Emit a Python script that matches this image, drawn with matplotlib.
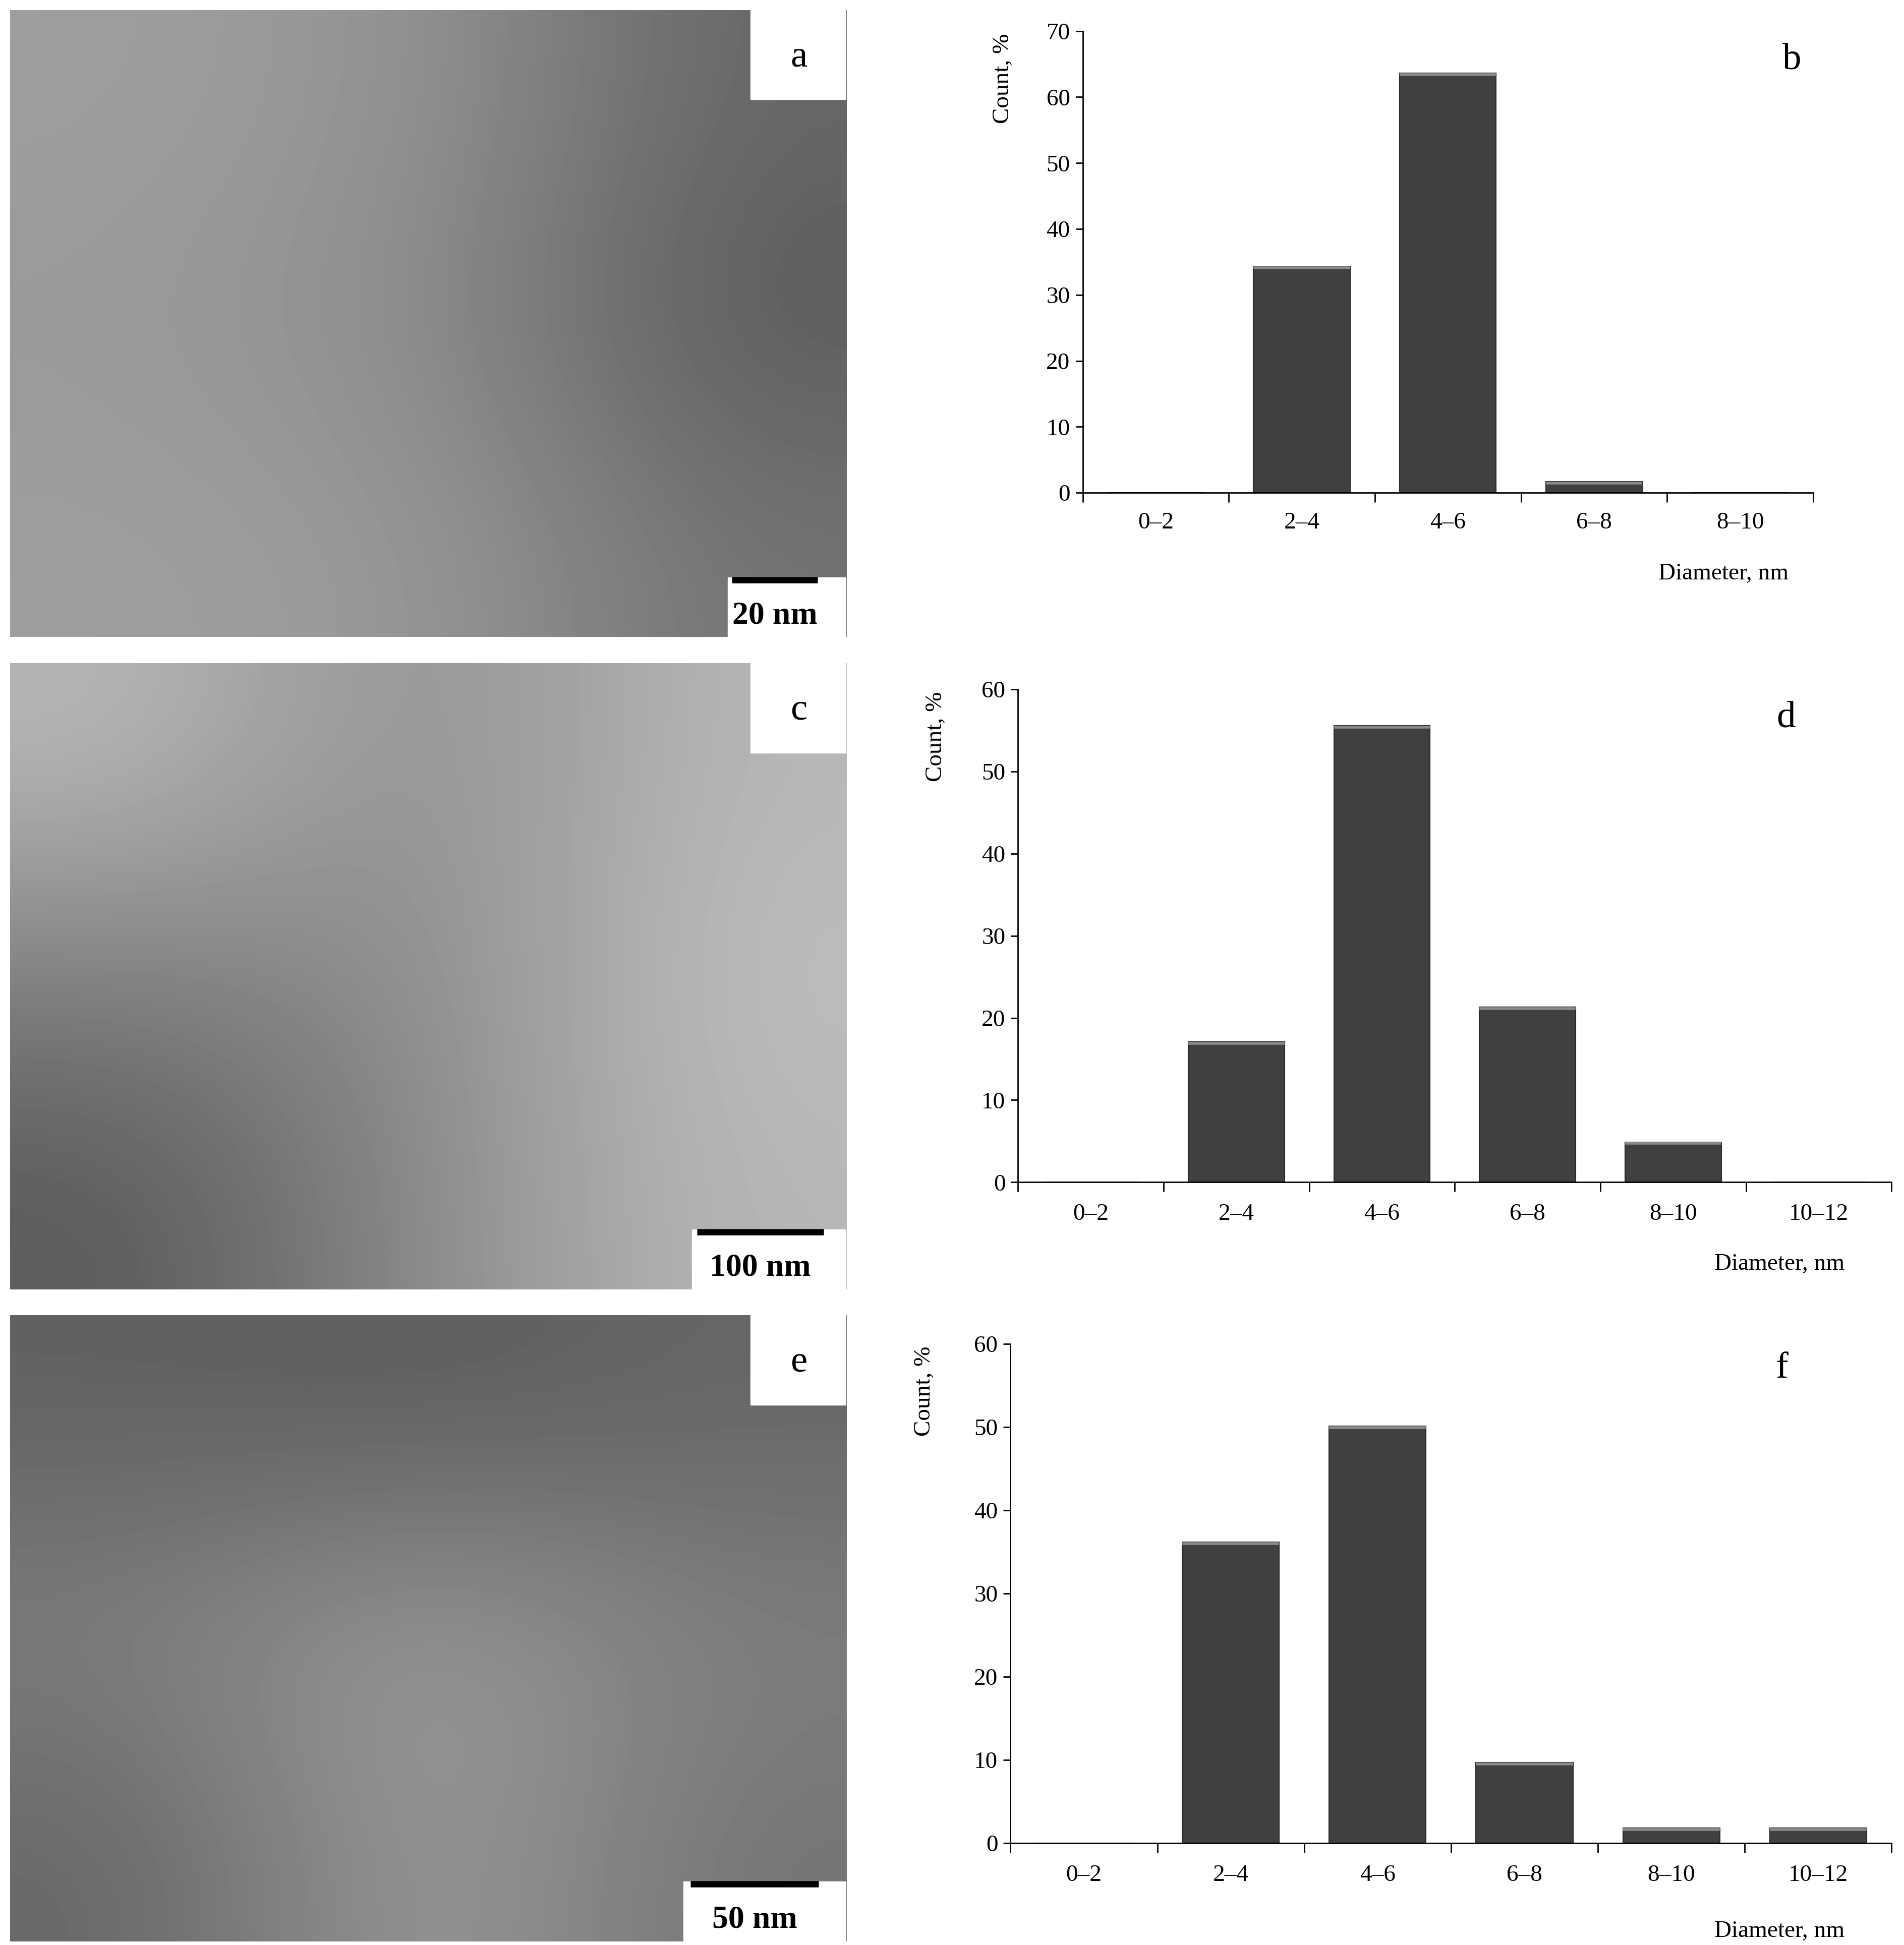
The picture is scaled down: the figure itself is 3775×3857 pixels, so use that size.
import matplotlib
matplotlib.use('Agg')
import matplotlib.pyplot as plt
from matplotlib.patches import Rectangle

plt.rcParams['font.family'] = ['Liberation Serif', 'DejaVu Serif']

# histogram data
bins_b = ['0–2', '2–4', '4–6', '6–8', '8–10']
count_b = [0, 34.3, 63.6, 1.7, 0]
bins_d = ['0–2', '2–4', '4–6', '6–8', '8–10', '10–12']
count_d = [0, 17.1, 55.6, 21.3, 4.9, 0]
bins_f = ['0–2', '2–4', '4–6', '6–8', '8–10', '10–12']
count_f = [0, 36.2, 50.1, 9.7, 1.8, 1.8]

# rough grey levels of the micrographs (shown as smooth shading only)
shade_a = [[0.62, 0.58, 0.40], [0.60, 0.55, 0.35], [0.62, 0.60, 0.45]]
shade_c = [[0.72, 0.55, 0.72], [0.50, 0.55, 0.75], [0.35, 0.55, 0.72]]
shade_e = [[0.38, 0.36, 0.40], [0.50, 0.62, 0.50], [0.40, 0.62, 0.45]]

W, H = 1530.0, 1563.0
fig = plt.figure(figsize=(37.75, 38.57), dpi=100)


def box(x0, y0, x1, y1):
    return [x0 / W, 1 - y1 / H, (x1 - x0) / W, (y1 - y0) / H]


def tem(y0, y1, shade, letter, bar_text, bar_x0, bar_x1, box_x0):
    ax = fig.add_axes(box(8, y0, 680, y1))
    ax.imshow(shade, cmap='gray', vmin=0, vmax=1, interpolation='bicubic',
              aspect='auto', extent=[0, 1, 0, 1])
    ax.set_xlim(0, 1)
    ax.set_ylim(0, 1)
    ax.axis('off')
    h = y1 - y0
    lx = (603 - 8) / 672
    ax.add_patch(Rectangle((lx, 1 - 72 / h), 1 - lx, 72 / h, color='white'))
    ax.text((642 - 8) / 672, 1 - 38 / h, letter, fontsize=54, ha='center', va='center')
    bx = (box_x0 - 8) / 672
    ax.add_patch(Rectangle((bx, 0), 1 - bx, 48 / h, color='white'))
    ax.plot([(bar_x0 - 8) / 672, (bar_x1 - 8) / 672], [1 - (y1 - 46 - y0) / h] * 2,
            color='black', lw=9, solid_capstyle='butt')
    ax.text(((bar_x0 + bar_x1) / 2 - 8) / 672, 17 / h, bar_text, fontsize=46,
            fontweight='bold', ha='center', va='center')


def hist(rect, cats, vals, ymax, letter, letter_xy, xlabel_xy, ylabel_x):
    ax = fig.add_axes(box(*rect))
    x = range(len(cats))
    ax.bar(x, vals, width=0.66, color='#404040', edgecolor='#2a2a2a', lw=1.5)
    for i, v in enumerate(vals):
        if v > 0:
            ax.plot([i - 0.32, i + 0.32], [v - ymax * 0.003] * 2, color='#8a8a8a', lw=4)
    ax.set_xlim(-0.5, len(cats) - 0.5)
    ax.set_ylim(0, ymax)
    ax.set_yticks(range(0, ymax + 1, 10))
    ax.set_xticks([i - 0.5 for i in range(len(cats) + 1)])
    ax.set_xticklabels([])
    for i, c in enumerate(cats):
        ax.text(i, -ymax * 0.065, c, ha='center', va='center', fontsize=34)
    ax.tick_params(axis='x', length=14, width=2)
    ax.tick_params(axis='y', length=10, width=2, labelsize=34, pad=8)
    for s in ['top', 'right']:
        ax.spines[s].set_visible(False)
    for s in ['left', 'bottom']:
        ax.spines[s].set_linewidth(2)
    fig.text(letter_xy[0] / W, 1 - letter_xy[1] / H, letter, fontsize=54, ha='center', va='center')
    fig.text(xlabel_xy[0] / W, 1 - xlabel_xy[1] / H, 'Diameter, nm', fontsize=34, ha='center', va='center')
    fig.text(ylabel_x / W, 1 - (rect[1] + 38) / H, 'Count, %', fontsize=34, rotation=90,
             ha='center', va='center')


tem(8, 512, shade_a, 'a', '20 nm', 588, 657, 585)
tem(533, 1036, shade_c, 'c', '100 nm', 560, 662, 556)
tem(1057, 1560, shade_e, 'e', '50 nm', 555, 658, 549)

hist((870, 25, 1457, 396), bins_b, count_b, 70, 'b', (1440, 48), (1385, 461), 806)
hist((818, 554, 1520, 950), bins_d, count_d, 60, 'd', (1435, 577), (1430, 1016), 752)
hist((812, 1080, 1520, 1481), bins_f, count_f, 60, 'f', (1432, 1100), (1430, 1552), 743)

fig.savefig('out.png', dpi=100)
